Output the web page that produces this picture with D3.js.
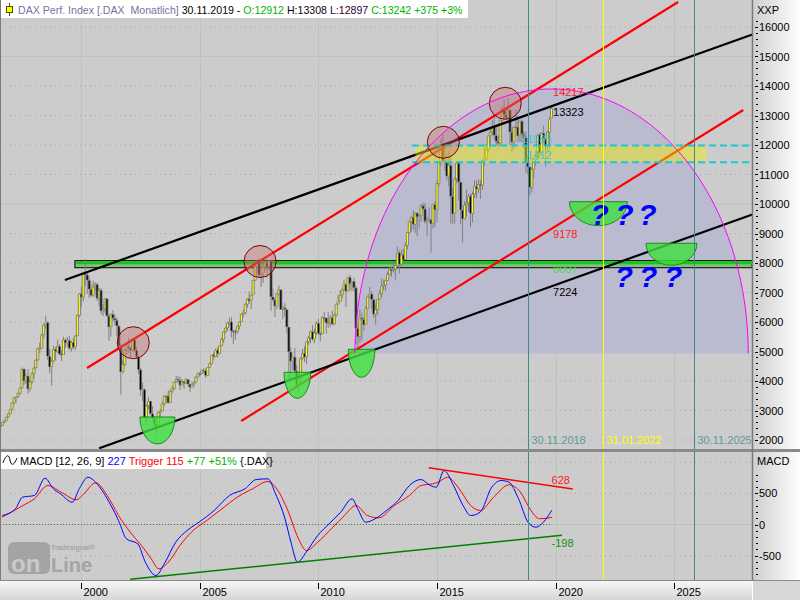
<!DOCTYPE html>
<html lang="en">
<head>
<meta charset="utf-8">
<script src="https://d3js.org/d3.v7.min.js"></script>
<title>DAX Perf. Index monthly</title>
<style>
  body { margin: 0; background: #fff; }
  svg text { font-family: "Liberation Sans", Arial, sans-serif; font-size: 11px; white-space: pre; }
</style>
</head>
<body>
<svg id="chart" width="800" height="600"></svg>
<script>
// ---- data: monthly DAX bars, Aug 1996 .. Nov 2019 ----
var firstYear = 1996, firstMonth = 8;
var firstOpen = 2439;
var closes = [
  2494,2594,2645,2775,2889,
  3036,3260,3429,3459,3579,3768,4406,3998,4168,3727,3969,4250,
  4442,4710,5096,5107,5568,5897,5980,4835,4474,4671,5073,5002,
  5179,4916,4884,5395,5290,5378,5106,5305,5150,5525,6221,6958,
  6835,7644,7599,7414,7110,6898,7190,7279,6798,7077,6372,6434,
  6795,6208,5830,6264,6123,6058,5861,5188,4308,4559,5045,5160,
  5108,5039,5397,5041,4818,4383,3700,3713,2769,3153,3320,2893,
  2748,2547,2424,2942,2983,3221,3487,3485,3257,3656,3745,3965,
  4059,4018,3856,3985,3921,4053,3895,3785,3893,3960,4126,4256,
  4254,4350,4349,4185,4461,4587,4887,4829,5044,4930,5193,5408,
  5674,5796,5970,6009,5693,5683,5682,5860,6005,6269,6309,6597,
  6789,6716,6917,7409,7884,8007,7584,7638,7862,8019,7871,8067,
  6852,6748,6535,6949,7097,6418,6479,6422,5831,4988,4669,4810,
  4338,3843,4085,4769,4941,4809,5332,5465,5675,5415,5625,5957,
  5608,5598,6154,6136,5965,5966,6148,5925,6229,6601,6688,6914,
  7077,7273,7041,7514,7294,7376,7159,5785,5502,6141,6089,5898,
  6458,6856,6947,6761,6264,6416,6772,6970,7216,7260,7406,7612,
  7776,7742,7795,7914,8349,7959,8276,8104,8594,9033,9406,9552,
  9306,9692,9556,9603,9943,9833,9407,9470,9474,9327,9981,9806,
  10694,11402,11966,11454,11414,10945,11309,10259,9660,10850,11382,10743,
  9798,9495,9966,10039,10263,9680,10337,10593,10511,10665,10640,11481,
  11535,11834,12313,12438,12615,12325,12118,12056,12829,13230,13024,12918,
  13189,12436,12097,12612,12605,12306,12806,12364,12247,11448,11257,10559,
  11173,11516,11526,12344,11727,12399,12189,11939,12428,12867,13242
];
var highs = [
  2530,2600,2680,2790,2910,
  3060,3290,3470,3490,3620,3800,4460,4430,4230,4400,4020,4300,
  4480,4740,5140,5300,5600,5950,6217,6030,5100,4720,5200,5150,
  5400,5250,5050,5500,5450,5500,5530,5360,5460,5560,6260,6980,
  7200,7700,8136,7700,7550,7270,7400,7350,7330,7150,7150,6600,
  6800,6800,6250,6300,6400,6250,6150,5900,5250,4700,5100,5300,
  5450,5140,5450,5400,5150,4850,4450,3950,3750,3200,3450,3320,
  3150,2800,2700,2980,3050,3310,3530,3520,3670,3700,3830,3990,
  4170,4160,4150,4070,4000,4100,4070,3900,3950,4000,4180,4290,
  4300,4400,4440,4420,4470,4630,4900,4960,5100,5140,5220,5470,
  5700,5840,6000,6140,6160,5750,5750,5890,6030,6300,6420,6630,
  6800,7040,6940,7420,7900,8090,8150,7640,7880,8040,8020,8100,
  8080,7140,6800,6990,7230,7100,6550,6640,6450,5850,5130,4860,
  5110,4540,4250,4800,5090,5170,5360,5530,5720,5890,5780,6030,
  6110,5650,6200,6340,6160,6330,6220,6390,6300,6640,6920,7090,
  7150,7440,7310,7530,7600,7390,7500,7210,5880,6430,6300,6160,
  6550,6900,7190,7050,6780,6600,6780,7080,7480,7440,7430,7700,
  7870,7880,8060,7920,8560,8420,8450,8480,8690,9060,9430,9600,
  9800,9720,9730,9650,10000,10050,10030,9550,9890,9480,10000,10090,
  10810,11430,12220,12390,11920,11640,11800,11670,10540,10900,11430,11340,
  10490,9800,10100,10490,10340,10350,10410,10800,10800,10830,10800,11480,
  11890,12030,12310,12490,12840,12950,12680,12320,12830,13320,13530,13300,
  13600,13230,12600,12650,13200,12990,12840,12860,12480,12460,11650,11220,
  11210,11560,11820,12380,12410,12440,12660,12220,12490,12950,13308
];
var lows = [
  2420,2480,2570,2630,2740,
  2870,3010,3200,3250,3420,3540,3740,3870,3900,3570,3640,3880,
  4070,4400,4690,4950,5080,5450,5780,4720,4280,3833,4650,4700,
  4950,4860,4680,4880,5120,5170,5050,4990,5080,5050,5520,6160,
  6500,6700,7200,6950,6820,6850,6850,7050,6720,6530,6250,6200,
  6300,6150,5360,5500,6020,5900,5500,5100,3539,4250,4500,4900,
  4950,4810,5000,4980,4760,4250,3500,3320,2700,2519,3050,2850,
  2700,2400,2189,2400,2780,2970,3150,3250,3240,3250,3590,3690,
  3930,3950,3690,3850,3720,3900,3810,3620,3780,3800,3950,4110,
  4160,4250,4260,4100,4170,4440,4550,4730,4800,4800,4900,5180,
  5300,5620,5700,5880,5480,5250,5400,5600,5750,5990,6160,6250,
  6480,6630,6440,6900,7390,7660,7480,7190,7320,7730,7500,7750,
  6380,6700,6170,6450,6900,6410,6090,6190,5620,4014,4012,4370,
  4180,3820,3588,3970,4720,4650,4570,5230,5280,5360,5280,5570,
  5570,5340,5590,6030,5600,5800,5820,5900,5880,6170,6600,6790,
  6800,7060,6510,7030,7070,7050,7030,5260,4965,5300,5370,5690,
  5900,6470,6780,6440,6140,5910,6230,6770,6840,7080,7040,7400,
  7600,7530,7680,7420,7890,7650,7880,8080,8140,8460,9000,9060,
  9130,9020,8900,9170,9380,9780,9340,8900,9400,8350,9170,9220,
  9380,10580,11290,11440,11130,10800,10600,9340,9325,9330,10700,10120,
  9310,8700,9470,9570,9730,9210,9370,10200,10200,10380,10170,10480,
  11300,11470,11750,11880,12340,12200,11950,11870,11990,12750,12850,12860,
  12880,12000,11730,11830,12560,12100,12100,12100,11870,11050,11010,10280,
  10390,10860,11300,11500,11620,11620,12120,11270,11780,11850,12897
];

// MACD (12,26,9) and trigger (decimal years)
var macdTimes = [1996.75,1997.3,1997.6,1998.1,1998.55,1998.9,1999.2,1999.7,2000.0,2000.36,2000.68,2001.0,2001.33,2001.65,2001.98,2002.46,2002.78,2003.23,2003.58,2004.06,2004.56,2005.04,2005.68,2006.33,2006.98,2007.46,2007.95,2008.27,2008.67,2008.92,2009.2,2009.56,2010.05,2010.53,2011.02,2011.5,2011.74,2012.07,2012.47,2012.95,2013.44,2013.92,2014.4,2014.8,2015.05,2015.38,2015.78,2016.18,2016.5,2016.9,2017.39,2017.79,2018.12,2018.52,2018.92,2019.25,2019.57,2019.92];
var macdValues = [144,251,438,465,742,572,492,357,577,758,678,518,304,64,-229,-309,-604,-817,-630,-284,-91,37,224,465,572,721,732,492,91,-284,-604,-444,-176,11,197,412,251,37,91,224,385,625,721,625,598,865,625,304,144,197,598,705,678,412,37,-43,37,227];
var triggerTimes = [1996.73,1997.62,1998.1,1998.67,1999.23,1999.88,2000.12,2000.69,2001.17,2001.65,2002.14,2002.62,2003.03,2003.35,2003.75,2004.24,2004.72,2005.37,2006.01,2006.66,2007.3,2007.95,2008.27,2008.76,2009.24,2009.57,2010.05,2010.69,2011.18,2011.66,2012.15,2012.63,2013.28,2013.92,2014.41,2014.89,2015.13,2015.53,2016.02,2016.5,2016.91,2017.47,2018.12,2018.6,2019.0,2019.41,2019.94];
var triggerValues = [117,304,412,625,518,396,465,668,465,144,-123,-337,-550,-710,-604,-337,-123,64,251,438,572,689,598,251,-229,-417,-284,-43,144,304,144,107,304,465,625,652,678,758,572,304,224,438,636,518,251,91,115];
var macdResistance = [[2014.73, 910], [2020.81, 569]];
var macdSupport = [[2002.14, -878], [2020.35, -173]];

// drawings on the price panel [decimal year, index value]
var redChannel = [[[2000.32, 4441], [2025.25, 16847]], [[2006.82, 2644], [2028.0, 13186]]];
var blackChannel = [[[1999.39, 7424], [2028.4, 15753]], [[2000.83, 1719], [2028.4, 9651]]];
var supportBand = {from: 1999.81, low: 7840, high: 8080, mid: 8007};
var resistBand = {from: 2014.17, to: 2026.44, dashFrom: 2014.03, dashTo: 2028.28, low: 11412, high: 11985};
var topCircles = [[2002.27, 5298], [2007.62, 8051], [2015.35, 12092], [2017.96, 13414]];
var bottomCups = [[2003.29, 2780], [2009.19, 4295], [2011.9, 5075], [2021.89, 10078], [2024.97, 8668]];
var arc = {left: 2011.62, right: 2028.21, base: 4930, top: 13900};
var qMarks1 = [2021.55, 2022.6, 2023.57], qMarks1Level = 9288;
var qMarks2 = [2022.58, 2023.6, 2024.65], qMarks2Level = 7197;
var dateLines = [["30.11.2018", 2018, 10, 30], ["31.01.2022", 2022, 0, 31], ["30.11.2025", 2025, 10, 30]];
var levelLabels = [["13323", 13323, "#000"], ["9178", 9178, "#ff2020"], ["8007", 8007, "#40e040"], ["7224", 7224, "#000"]];
var priceTicks = d3.range(2000, 16001, 1000);
var macdTicks = [500, 0, -500];
var yearTicks = [2000, 2005, 2010, 2015, 2020, 2025];

// ---- sizes (px) ----
var cupSize = [[17.5, 27], [13.3, 26], [13.3, 28], [29, 24], [25.5, 22]];
var circleR = 16;

// ---- layout ----
var plotR = 752, mainTop = 0, mainBot = 449, macdTop = 452, macdBot = 580;

function dec(t) {
  var y = Math.floor(t), a = new Date(y, 0, 1), b = new Date(y + 1, 0, 1);
  return new Date(+a + (t - y) * (b - a));
}

var x = d3.scaleTime().domain([new Date(2000, 0, 1), new Date(2025, 0, 1)]).range([79.4, 672.2]);
var y = d3.scaleLinear().domain([2000, 16000]).range([440, 27]);
var ym = d3.scaleLinear().domain([-500, 500]).range([555.7, 493.3]);

var bars = closes.map(function(c, i) {
  var m = firstMonth - 1 + i;
  var yr = firstYear + Math.floor(m / 12), mo = m % 12;
  return {date: new Date(yr, mo + 1, 0), o: i ? closes[i - 1] : firstOpen, h: highs[i], l: lows[i], c: c};
});
bars[bars.length - 1].o = 12912;

var svg = d3.select("#chart");
var defs = svg.append("defs");
defs.append("clipPath").attr("id", "clipMain").append("rect").attr("x", 0).attr("y", mainTop).attr("width", plotR).attr("height", mainBot - mainTop);
defs.append("clipPath").attr("id", "clipMacd").append("rect").attr("x", 0).attr("y", macdTop).attr("width", plotR).attr("height", macdBot - macdTop);
var gr = defs.append("linearGradient").attr("id", "axisGrad").attr("x1", 0).attr("x2", 1).attr("y1", 0).attr("y2", 0);
gr.append("stop").attr("offset", 0).attr("stop-color", "#cfcfcf");
gr.append("stop").attr("offset", 1).attr("stop-color", "#ffffff");
var gr2 = defs.append("linearGradient").attr("id", "botGrad").attr("x1", 0).attr("x2", 0).attr("y1", 0).attr("y2", 1);
gr2.append("stop").attr("offset", 0).attr("stop-color", "#f6f6f6");
gr2.append("stop").attr("offset", 1).attr("stop-color", "#d6d6d6");

// panels
svg.append("rect").attr("width", 800).attr("height", 600).attr("fill", "#fff");
svg.append("rect").attr("x", 0).attr("y", mainTop).attr("width", plotR).attr("height", mainBot - mainTop).attr("fill", "#cccccc");
svg.append("rect").attr("x", 0).attr("y", macdTop).attr("width", plotR).attr("height", macdBot - macdTop).attr("fill", "#cccccc");

var main = svg.append("g").attr("clip-path", "url(#clipMain)");
var macd = svg.append("g").attr("clip-path", "url(#clipMacd)");

// grid
priceTicks.forEach(function(v) {
  main.append("line").attr("x1", 0).attr("x2", plotR).attr("y1", y(v)).attr("y2", y(v))
    .attr("stroke", v % 5000 === 0 ? "#b4c8b4" : "#a8a8a8")
    .attr("stroke-dasharray", v % 5000 === 0 ? null : "1,4");
});
[1000, 500, -500].forEach(function(v) {
  macd.append("line").attr("x1", 0).attr("x2", plotR).attr("y1", ym(v)).attr("y2", ym(v))
    .attr("stroke", "#a8a8a8").attr("stroke-dasharray", "1,4");
});
macd.append("line").attr("x1", 0).attr("x2", plotR).attr("y1", ym(0)).attr("y2", ym(0)).attr("stroke", "#b4c8b4");
yearTicks.forEach(function(yr) {
  var xx = Math.round(x(new Date(yr, 0, 31))) + 0.5;
  main.append("line").attr("x1", xx).attr("x2", xx).attr("y1", mainTop).attr("y2", mainBot).attr("stroke", "#b4c8b4");
  macd.append("line").attr("x1", xx).attr("x2", xx).attr("y1", macdTop).attr("y2", macdBot).attr("stroke", "#b4c8b4");
});

// ellipse (half) geometry in px
var ecx = (x(dec(arc.left)) + x(dec(arc.right))) / 2;
var erx = (x(dec(arc.right)) - x(dec(arc.left))) / 2;
var ecy = y(arc.base), ery = y(arc.base) - y(arc.top);
var arcPts = d3.range(0, 181, 2).map(function(a) {
  var r = a * Math.PI / 180;
  return [ecx - erx * Math.cos(r), ecy - ery * Math.sin(r)];
});
main.append("path").attr("d", d3.line()(arcPts) + "Z").attr("fill", "#bbbbd0");

// support band (green)
main.append("rect").attr("x", x(dec(supportBand.from))).attr("y", y(supportBand.high))
  .attr("width", plotR - x(dec(supportBand.from))).attr("height", y(supportBand.low) - y(supportBand.high))
  .attr("fill", "#86bc86").attr("stroke", "#000").attr("stroke-width", 1);
main.append("line").attr("x1", x(dec(supportBand.from)) + 1).attr("x2", plotR)
  .attr("y1", y(supportBand.mid)).attr("y2", y(supportBand.mid)).attr("stroke", "#14c814").attr("stroke-width", 3);

// candles
var cg = main.append("g");
bars.forEach(function(b) {
  var cx = x(b.date);
  cg.append("line").attr("x1", cx).attr("x2", cx).attr("y1", y(b.h)).attr("y2", y(b.l)).attr("stroke", "#808080").attr("stroke-width", 1);
  var top = y(Math.max(b.o, b.c)), h = Math.max(1, y(Math.min(b.o, b.c)) - top);
  cg.append("rect").attr("x", cx - 1.5).attr("y", top).attr("width", 3).attr("height", h).attr("fill", "#7a7a7a");
  cg.append("rect").attr("x", cx - 0.6).attr("y", top + 0.5).attr("width", 1.2).attr("height", Math.max(0.5, h - 1))
    .attr("fill", b.c >= b.o ? "#ffff00" : "#000");
});

// trend lines
function seg(p) { return [[x(dec(p[0][0])), y(p[0][1])], [x(dec(p[1][0])), y(p[1][1])]]; }
redChannel.forEach(function(p) {
  main.append("path").attr("d", d3.line()(seg(p))).attr("stroke", "#ff0000").attr("stroke-width", 2.2).attr("fill", "none");
});
blackChannel.forEach(function(p) {
  main.append("path").attr("d", d3.line()(seg(p))).attr("stroke", "#000").attr("stroke-width", 2.2).attr("fill", "none");
});

// resistance band (yellow) + dashed edges
main.append("rect").attr("x", x(dec(resistBand.from))).attr("y", y(resistBand.high))
  .attr("width", x(dec(resistBand.to)) - x(dec(resistBand.from))).attr("height", y(resistBand.low) - y(resistBand.high))
  .attr("fill", "#f0f000").attr("opacity", 0.45);
[resistBand.high, resistBand.low].forEach(function(v) {
  main.append("line").attr("x1", x(dec(resistBand.dashFrom))).attr("x2", x(dec(resistBand.dashTo)))
    .attr("y1", y(v)).attr("y2", y(v)).attr("stroke", "#18c8d8").attr("stroke-width", 2).attr("stroke-dasharray", "7,4");
});

// circles at tops
topCircles.forEach(function(p) {
  main.append("circle").attr("cx", x(dec(p[0]))).attr("cy", y(p[1])).attr("r", circleR)
    .attr("fill", "#c87070").attr("fill-opacity", 0.4).attr("stroke", "#800000").attr("stroke-width", 1);
});

// half cups at lows
bottomCups.forEach(function(p, i) {
  var cx = x(dec(p[0])), cy = y(p[1]), rx = cupSize[i][0], ry = cupSize[i][1];
  main.append("path").attr("d", "M" + (cx - rx) + "," + cy + " A" + rx + "," + ry + " 0 0 0 " + (cx + rx) + "," + cy + " Z")
    .attr("fill", "#3ee03e").attr("fill-opacity", 0.8).attr("stroke", "#1c8c1c").attr("stroke-width", 1);
});

// magenta arc
main.append("path").attr("d", d3.line()(arcPts)).attr("stroke", "#ff00ff").attr("stroke-width", 1).attr("fill", "none");

// question marks
[[qMarks1, qMarks1Level], [qMarks2, qMarks2Level]].forEach(function(q) {
  q[0].forEach(function(t) {
    main.append("text").attr("x", x(dec(t))).attr("y", y(q[1])).text("?")
      .style("font-size", "30px").style("font-weight", "bold").style("font-style", "italic").attr("fill", "#0000ff");
  });
});

// vertical date lines through both panels
dateLines.forEach(function(d) {
  var xx = Math.round(x(new Date(d[1], d[2], d[3]))) + 0.5;
  var col = d[0] === "31.01.2022" ? "#ffff00" : "#3c8c8c";
  svg.append("line").attr("x1", xx).attr("x2", xx).attr("y1", mainTop).attr("y2", mainBot).attr("stroke", col);
  svg.append("line").attr("x1", xx).attr("x2", xx).attr("y1", macdTop).attr("y2", macdBot).attr("stroke", col);
  main.append("text").attr("x", xx + 3).attr("y", 444).text(d[0])
    .attr("fill", d[0] === "31.01.2022" ? "#ffff00" : "#5f9a9a");
});

// value labels
var lastX = x(bars[bars.length - 1].date);
levelLabels.forEach(function(l) {
  main.append("text").attr("x", lastX + 1.5).attr("y", y(l[1]) + 10).text(l[0]).attr("fill", l[2]);
});
main.append("text").attr("x", lastX + 1.5).attr("y", y(arc.top) + 7).text("14217").attr("fill", "#ff2020");
main.append("text").attr("x", x(dec(2018.65))).attr("y", y(resistBand.high) - 2.5).text("11985").attr("fill", "#40c8d8");
main.append("text").attr("x", x(dec(2018.65))).attr("y", y(resistBand.low) - 3).text("11412").attr("fill", "#40c8d8");

// MACD panel
macd.append("line").attr("x1", 0).attr("x2", lastX).attr("y1", ym(0)).attr("y2", ym(0))
  .attr("stroke", "#666").attr("stroke-dasharray", "1,2");
var mline = d3.line().curve(d3.curveMonotoneX);
macd.append("path").attr("d", mline(triggerTimes.map(function(t, i) { return [x(dec(t)), ym(triggerValues[i])]; })))
  .attr("stroke", "#ff0000").attr("fill", "none").attr("stroke-width", 1);
macd.append("path").attr("d", mline(macdTimes.map(function(t, i) { return [x(dec(t)), ym(macdValues[i])]; })))
  .attr("stroke", "#0000ff").attr("fill", "none").attr("stroke-width", 1);
function mseg(p) { return [[x(dec(p[0][0])), ym(p[0][1])], [x(dec(p[1][0])), ym(p[1][1])]]; }
macd.append("path").attr("d", d3.line()(mseg(macdResistance))).attr("stroke", "#ff0000").attr("stroke-width", 1.5);
macd.append("path").attr("d", d3.line()(mseg(macdSupport))).attr("stroke", "#008000").attr("stroke-width", 1.5);
macd.append("text").attr("x", lastX).attr("y", ym(628) - 1).text("628").attr("fill", "#ff2020");
macd.append("text").attr("x", lastX).attr("y", ym(-198) + 10).text("-198").attr("fill", "#109010");

// watermark
var wm = macd.append("g").attr("fill", "#a4a4a4");
wm.append("rect").attr("x", 8).attr("y", 542).attr("width", 42).attr("height", 32).attr("rx", 6);
wm.append("text").attr("x", 11).attr("y", 572).text("on").style("font-size", "24px").style("font-weight", "bold").attr("fill", "#cacaca");
wm.append("text").attr("x", 51).attr("y", 572).text("Line").style("font-size", "20px").style("font-weight", "bold");
wm.append("text").attr("x", 51).attr("y", 550).text("Tradesignal®").style("font-size", "7px").style("font-weight", "bold");

// titles
svg.append("rect").attr("x", 0).attr("y", 0).attr("width", 468).attr("height", 18).attr("fill", "#fff");
svg.append("line").attr("x1", 9.5).attr("x2", 9.5).attr("y1", 3).attr("y2", 16).attr("stroke", "#404040");
svg.append("rect").attr("x", 6.5).attr("y", 6.5).attr("width", 6).attr("height", 6).attr("fill", "#ffff00").attr("stroke", "#505000");
var t1 = svg.append("text").attr("x", 18).attr("y", 13.5).style("font-size", "10.6px");
[["DAX Perf. Index [.DAX  Monatlich] ", "#7474a0"], ["30.11.2019 - ", "#000"], ["O:12912 ", "#00b400"],
 ["H:13308 ", "#100010"], ["L:12897 ", "#300030"], ["C:13242 +375 +3%", "#00b400"]].forEach(function(p) {
  t1.append("tspan").text(p[0]).attr("fill", p[1]);
});
svg.append("rect").attr("x", 0).attr("y", macdTop).attr("width", 266).attr("height", 17).attr("fill", "#fff");
svg.append("path").attr("d", "M3,463 C6,454 9,454 10,460 C11,466 14,466 17,458").attr("stroke", "#000").attr("fill", "none");
var t2 = svg.append("text").attr("x", 20).attr("y", 465);
[["MACD [12, 26, 9] ", "#000"], ["227 ", "#0000ff"], ["Trigger 115 ", "#ff0000"], ["+77 +51% ", "#00b400"], ["{.DAX}", "#000"]].forEach(function(p) {
  t2.append("tspan").text(p[0]).attr("fill", p[1]);
});

// right axis strip and bottom strip
svg.append("rect").attr("x", 753).attr("y", 0).attr("width", 47).attr("height", 580).attr("fill", "url(#axisGrad)");
svg.append("rect").attr("x", 0).attr("y", 581).attr("width", 752).attr("height", 19).attr("fill", "url(#botGrad)");
svg.append("rect").attr("x", 753).attr("y", 581).attr("width", 47).attr("height", 19).attr("fill", "#d8d8d8");

var ax = svg.append("g");
ax.append("text").attr("x", 757).attr("y", 14).text("XXP").attr("fill", "#000");
d3.range(2000, 16401, 200).forEach(function(v) {
  var yy = Math.round(y(v)) + 0.5;
  if (yy > 20 && yy < 447) ax.append("line").attr("x1", v % 1000 === 0 ? 755 : 756).attr("x2", 758).attr("y1", yy).attr("y2", yy).attr("stroke", "#000");
});
priceTicks.forEach(function(v) {
  ax.append("text").attr("x", 759).attr("y", y(v) + 4).text(v).attr("fill", "#000");
});
ax.append("text").attr("x", 757).attr("y", 465).text("MACD").attr("fill", "#000");
d3.range(-800, 801, 100).forEach(function(v) {
  var yy = Math.round(ym(v)) + 0.5;
  if (yy > 470 && yy < 578) ax.append("line").attr("x1", v % 500 === 0 ? 755 : 756).attr("x2", 758).attr("y1", yy).attr("y2", yy).attr("stroke", "#000");
});
macdTicks.forEach(function(v) {
  ax.append("text").attr("x", 759).attr("y", ym(v) + 4).text(v).attr("fill", "#000");
});
yearTicks.forEach(function(yr) {
  var xx = Math.round(x(new Date(yr, 0, 31))) + 0.5;
  ax.append("line").attr("x1", xx).attr("x2", xx).attr("y1", 583).attr("y2", 589).attr("stroke", "#000");
  ax.append("text").attr("x", xx + 2).attr("y", 596).text(yr).attr("fill", "#000");
});

// borders
svg.append("rect").attr("x", 0).attr("y", 449).attr("width", 800).attr("height", 3).attr("fill", "#8a8a8a");
svg.append("line").attr("x1", 752.5).attr("x2", 752.5).attr("y1", 0).attr("y2", 580).attr("stroke", "#7a7a7a").attr("stroke-width", 1.5);
svg.append("line").attr("x1", 0).attr("x2", 800).attr("y1", 580.5).attr("y2", 580.5).attr("stroke", "#8a8a8a");
svg.append("line").attr("x1", 0.5).attr("x2", 0.5).attr("y1", 0).attr("y2", 580).attr("stroke", "#7a7a7a");
</script>
</body>
</html>
